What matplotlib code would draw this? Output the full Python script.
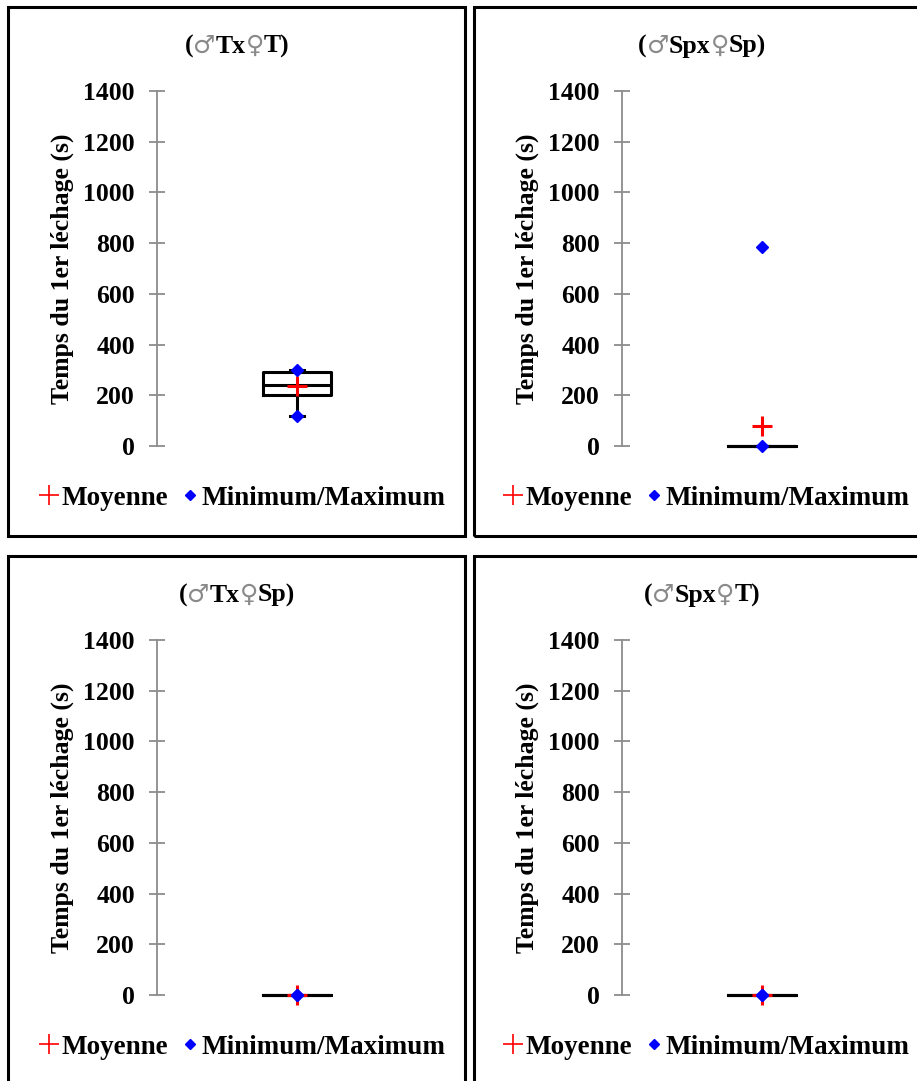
import matplotlib
matplotlib.use("Agg")
import matplotlib.pyplot as plt
from matplotlib.patches import Rectangle
from matplotlib.lines import Line2D
from matplotlib.offsetbox import TextArea, HPacker, AnchoredOffsetbox

# crosses (as title segments) and first-licking times (s)
titles = [["(", "♂", "Tx", "♀", "T)"],
          ["(", "♂", "Spx", "♀", "Sp)"],
          ["(", "♂", "Tx", "♀", "Sp)"],
          ["(", "♂", "Spx", "♀", "T)"]]
q1 = [200, 0, 0, 0]
median = [240, 0, 0, 0]
q3 = [290, 0, 0, 0]
minimum = [120, 0, 0, 0]
maximum = [300, 785, 0, 0]
mean = [235, 78, 0, 0]
yticks = [0, 200, 400, 600, 800, 1000, 1200, 1400]
ylabel = "Temps du 1er léchage (s)"

W, H = 917, 1081
plt.rcParams["font.family"] = ["Liberation Serif", "DejaVu Serif"]
plt.rcParams["font.weight"] = "bold"
FS = 18.5

fig = plt.figure(figsize=(W / 100, H / 100), dpi=100)


def fx(px):
    return px / W


def fy(py):
    return 1 - py / H


# panel frames: (left, top, right, bottom) in pixels
frames = [(8, 7, 465, 536), (474, 7, 930, 536),
          (8, 556, 465, 1095), (474, 556, 930, 1095)]
# y axis x-position and y pixel of value 0
axis_x = [157, 622, 157, 622]
zero_y = [446, 446, 995, 995]
span = 355
ax_w = 280

for i in range(4):
    l, t, r, b = frames[i]
    fig.patches.append(Rectangle((fx(l), fy(b)), fx(r - l), (b - t) / H,
                                 transform=fig.transFigure, fill=False,
                                 edgecolor="black", linewidth=2.2))

    ax = fig.add_axes([fx(axis_x[i]), fy(zero_y[i]), fx(ax_w), span / H])
    stats = [dict(med=median[i], q1=q1[i], q3=q3[i],
                  whislo=minimum[i], whishi=maximum[i] if i != 1 else q3[i],
                  mean=mean[i], fliers=[])]
    ax.bxp(stats, positions=[0.5], widths=0.246, capwidths=0.05,
           showmeans=True, showfliers=False, patch_artist=False,
           boxprops=dict(color="black", linewidth=2.2),
           medianprops=dict(color="black", linewidth=2.2),
           whiskerprops=dict(color="black", linewidth=2.2),
           capprops=dict(color="black", linewidth=2.2),
           meanprops=dict(marker="+", markeredgecolor="red",
                          markersize=15, markeredgewidth=2.2))
    ax.plot([0.5, 0.5], [minimum[i], maximum[i]], linestyle="none",
            marker="D", markersize=6.5, color="blue", clip_on=False, zorder=5)

    ax.set_xlim(0, 1)
    ax.set_ylim(0, 1400)
    ax.set_yticks(yticks)
    ax.set_xticks([])
    for s in ["top", "right", "bottom"]:
        ax.spines[s].set_visible(False)
    ax.spines["left"].set_color("#8c8c8c")
    ax.spines["left"].set_linewidth(1.3)
    ax.tick_params(axis="y", direction="inout", length=11, width=1.3,
                   color="#8c8c8c", labelsize=FS, pad=10.5)
    for lab in ax.get_yticklabels():
        lab.set_fontweight("bold")
    ax.patch.set_alpha(0)
    for c in ax.get_children():
        c.set_clip_on(False)
    ax.set_ylabel(ylabel, fontsize=FS, fontweight="bold")
    ax.yaxis.set_label_coords(-0.298, 0.5)

    # title: bold serif text with thin grey gender signs
    parts = []
    for seg in titles[i]:
        if seg in ("♂", "♀"):
            props = dict(family=["DejaVu Sans"], weight="normal", size=18,
                         color="#8a8a8a")
        else:
            props = dict(family="Liberation Serif", weight="bold", size=FS,
                         color="black")
        parts.append(TextArea(seg, textprops=props))
    box = HPacker(children=parts, align="baseline", pad=0, sep=0)
    cx = 237 if i % 2 == 0 else 702
    fig.add_artist(AnchoredOffsetbox(loc="center", child=box, frameon=False,
                                     pad=0, borderpad=0,
                                     bbox_to_anchor=(fx(cx), fy(t + 39)),
                                     bbox_transform=fig.transFigure))

    handles = [Line2D([], [], linestyle="none", marker="+", color="red",
                      markersize=14, markeredgewidth=1.2),
               Line2D([], [], linestyle="none", marker="D", color="blue",
                      markersize=5)]
    lx = 242 if i % 2 == 0 else 706
    fig.legend(handles, ["Moyenne", "Minimum/Maximum"], loc="center",
               bbox_to_anchor=(fx(lx), fy(t + 491)), ncol=2, frameon=False,
               handlelength=0.8, handletextpad=0.05, columnspacing=0.4,
               prop=dict(size=19.5, weight="bold"))

fig.savefig("out.png", dpi=100)
